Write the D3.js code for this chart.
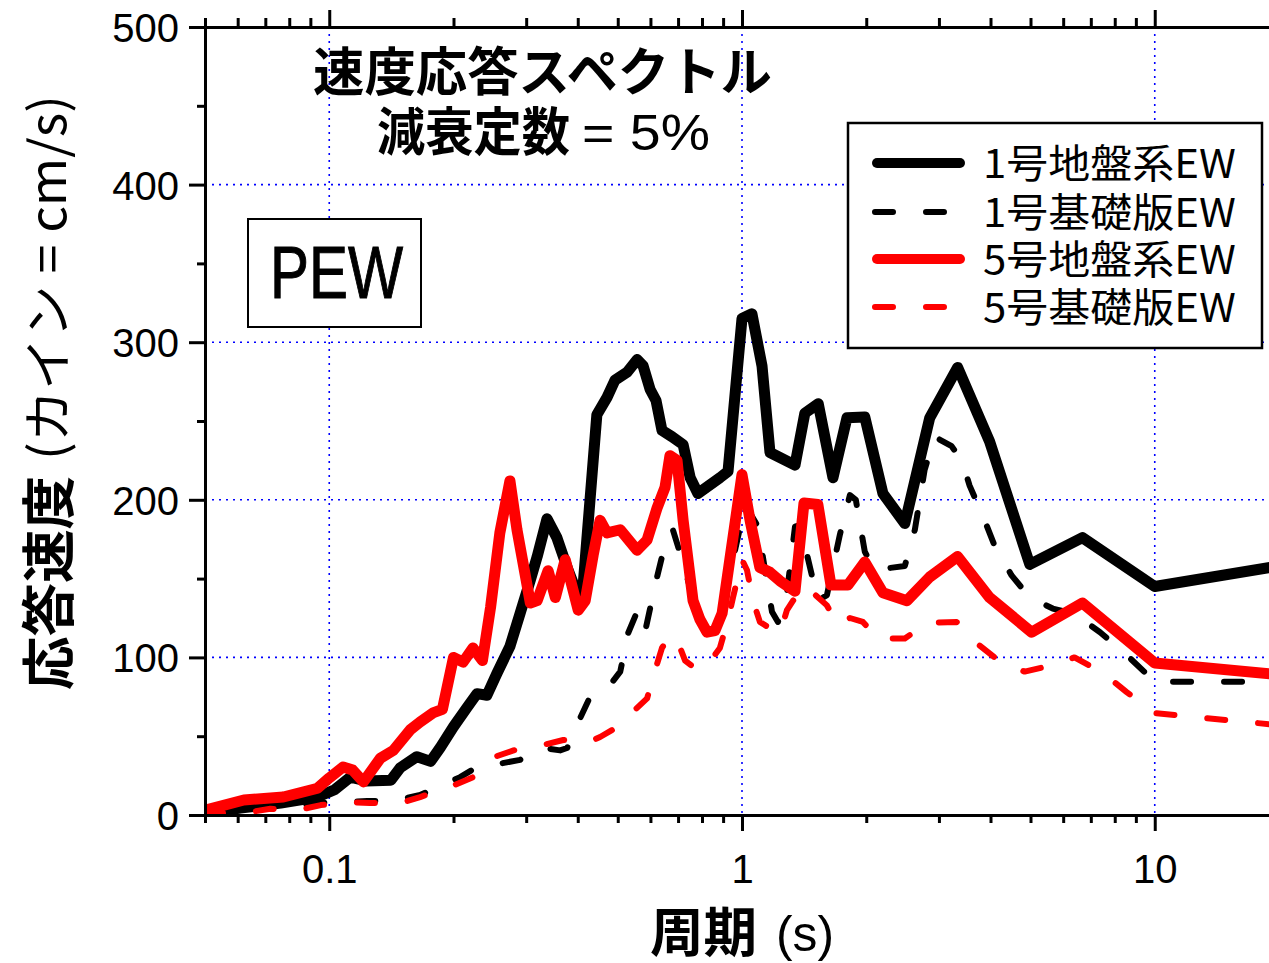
<!DOCTYPE html>
<html>
<head>
<meta charset="utf-8">
<script src="https://cdn.jsdelivr.net/npm/d3@7"></script>
<style>
  html, body { margin: 0; padding: 0; background: #fff; overflow: hidden; }
  svg { display: block; }
</style>
</head>
<body>
<svg id="chart" width="1269" height="963"></svg>
<script>
// ---- data: velocity response spectra (h = 5%), period [s] vs velocity [cm/s] ----
const seriesNames = ["1号地盤系EW", "1号基礎版EW", "5号地盤系EW", "5号基礎版EW"];

const periods1 = [0.05,0.0609,0.0763,0.0937,0.103,0.1124,0.123,0.141,0.1486,0.163,0.176,0.186,0.20,0.216,0.228,0.241,0.255,0.274,0.290,0.307,0.319,0.337,0.356,0.377,0.398,0.412,0.445,0.471,0.4925,0.527,0.557,0.576,0.599,0.619,0.640,0.677,0.72,0.749,0.782,0.884,0.925,1.0,1.057,1.118,1.169,1.344,1.42,1.53,1.661,1.796,1.984,2.195,2.48,2.85,3.33,3.98,4.98,6.68,10,20];
const values1  = [1,4.4,7.6,11.4,16,24,21.6,22,30,37,34,43,56,68.5,77,76,90,107,128,149,164,188,176,157,141,145,254,265,276,281,289,285,270,263,244,240,235,214,204,214,218,315,318,285,230,222,255,261,214,252,252.5,204,185,252,284,237,159,176,145,158];

const periods2 = [0.05,0.0667,0.0804,0.0937,0.1065,0.1236,0.1428,0.166,0.188,0.2075,0.228,0.249,0.290,0.33,0.3625,0.377,0.398,0.4285,0.479,0.507,0.530,0.557,0.582,0.616,0.659,0.68,0.72,0.757,0.791,0.851,0.895,0.962,1.017,1.093,1.137,1.182,1.222,1.278,1.344,1.382,1.477,1.527,1.606,1.727,1.826,1.887,1.984,2.098,2.48,2.623,2.77,2.93,3.22,3.41,3.56,3.87,4.09,4.5,4.98,5.66,6.39,7.37,8.55,10,20];
const values2  = [0.5,4.5,5,7.6,8.2,8.9,8.9,12.7,19,24,30.5,31.7,35,42.5,41,42.5,57,75,82.5,91,115.5,129,116,146,177.5,181,160,139.5,136,133,136,168,197,183,155.5,129,122.5,136,183,184,152,136,139.5,178,203,200,167,155.5,158,181,219,240,234,225,209,187,171,152,138,131,127.5,116,101.5,84.5,84.5];

const periods3 = [0.05,0.0621,0.0774,0.0937,0.1,0.108,0.114,0.121,0.133,0.143,0.157,0.166,0.179,0.188,0.20,0.211,0.223,0.235,0.246,0.259,0.274,0.285,0.307,0.319,0.339,0.353,0.373,0.401,0.417,0.436,0.453,0.471,0.507,0.557,0.589,0.623,0.651,0.669,0.696,0.72,0.761,0.791,0.823,0.860,0.895,1.0,1.046,1.105,1.169,1.236,1.344,1.413,1.527,1.642,1.806,1.984,2.195,2.51,2.85,3.33,3.98,5.03,6.68,10,20];
const values3  = [3,9.5,11.4,17,23.5,30.5,28.5,21,36,41,54,59,65,67,100,97,106,98,132,179,212,181,134.5,136,155,138,162,130,136,165,187,179,181,168,174.5,195,208,228,225,187,136,124,116,117,128,216,187,157,154,148.5,142,198,197,146,146,160.5,141,136,151,164,138,116,134.5,96.5,89];

const periods4 = [0.05,0.0632,0.072,0.0837,0.0954,0.1124,0.1254,0.1486,0.166,0.196,0.223,0.2525,0.2796,0.3243,0.369,0.421,0.4531,0.4925,0.5415,0.589,0.616,0.64,0.669,0.696,0.728,0.77,0.814,0.884,0.925,0.951,1.0,1.028,1.063,1.105,1.169,1.236,1.285,1.40,1.50,1.606,1.71,1.826,1.963,2.133,2.48,2.82,3.31,3.66,4.26,4.84,5.63,6.39,7.5,8.55,10,20];
const values4  = [1,1.5,4,3,6.3,8.2,7.6,7.6,11.4,17.8,24,37,41,44,47.6,45.7,49.5,55,65,74,92,106,114,111,98,93,93,106,124,138,162,155.5,136,122.5,118.5,115.5,130,145,140,133,120.5,125,122.5,112,112,122,122.5,110,96.5,91,95,100,90,78,64.7,57];

const xMajorTicks = [0.1, 1, 10];
const xMinorTicks = [0.05,0.06,0.07,0.08,0.09,0.2,0.3,0.4,0.5,0.6,0.7,0.8,0.9,2,3,4,5,6,7,8,9,20];
const yMajorTicks = [0, 100, 200, 300, 400, 500];
const yMinorTicks = [50, 150, 250, 350, 450];
const yGridTicks = [100, 200, 300, 400];

const titleLine1 = "速度応答スペクトル";
const titleLine2a = "減衰定数";
const titleLine2b = "= 5%";
const panelLabel = "PEW";
const xTitleA = "周期", xTitleB = "(s)";
const yTitleA = "応答速度", yTitleB = "(カイン = cm/s)";

// ---- layout ----
const LATIN = "'Liberation Sans', Arial, sans-serif";
const CJK = "'Noto Sans CJK JP', 'Noto Sans', sans-serif";
const plot = { left: 205, right: 1279, top: 27, bottom: 815 };

const svg = d3.select("#chart");
const x = d3.scaleLog().domain([0.05, 20]).range([plot.left, plot.right]);
const y = d3.scaleLinear().domain([0, 500]).range([plot.bottom, plot.top]);

// ---- grid ----
const grid = svg.append("g").attr("stroke", "#0000ff").attr("stroke-width", 1.6)
  .attr("stroke-dasharray", "2,5");
grid.selectAll("line.h").data(yGridTicks).join("line")
  .attr("x1", plot.left).attr("x2", plot.right)
  .attr("y1", d => y(d)).attr("y2", d => y(d));
grid.selectAll("line.v").data(xMajorTicks).join("line")
  .attr("y1", plot.top).attr("y2", plot.bottom)
  .attr("x1", d => x(d)).attr("x2", d => x(d));

// ---- series ----
svg.append("clipPath").attr("id", "plotClip").append("rect")
  .attr("x", plot.left).attr("y", plot.top - 5)
  .attr("width", plot.right - plot.left).attr("height", plot.bottom - plot.top + 5);

const series = [
  { name: seriesNames[0], periods: periods1, values: values1, color: "#000000", width: 11, dash: null },
  { name: seriesNames[1], periods: periods2, values: values2, color: "#000000", width: 6,  dash: "18,33" },
  { name: seriesNames[2], periods: periods3, values: values3, color: "#ff0000", width: 11, dash: null },
  { name: seriesNames[3], periods: periods4, values: values4, color: "#ff0000", width: 6,  dash: "18,33" }
];

const line = d3.line().x(d => x(d[0])).y(d => y(d[1]));
const linesG = svg.append("g").attr("clip-path", "url(#plotClip)");
series.forEach(s => {
  linesG.append("path")
    .datum(s.periods.map((p, i) => [p, s.values[i]]))
    .attr("d", line)
    .attr("fill", "none")
    .attr("stroke", s.color)
    .attr("stroke-width", s.width)
    .attr("stroke-linejoin", "round")
    .attr("stroke-linecap", "round")
    .attr("stroke-dasharray", s.dash);
});

// ---- axes ----
function styleAxis(g) {
  g.selectAll(".domain").attr("stroke", "#000").attr("stroke-width", 3);
  g.selectAll(".tick line").attr("stroke", "#000").attr("stroke-width", 3);
  g.selectAll(".tick text").attr("font-family", LATIN).attr("font-size", 40).attr("fill", "#000");
}
const fmtX = d => (d < 1 ? d.toString() : d3.format("d")(d));

// bottom
svg.append("g").attr("transform", `translate(0,${plot.bottom})`)
  .call(d3.axisBottom(x).tickValues(xMinorTicks).tickSize(8).tickSizeOuter(0).tickFormat(""))
  .call(styleAxis);
svg.append("g").attr("transform", `translate(0,${plot.bottom})`)
  .call(d3.axisBottom(x).tickValues(xMajorTicks).tickSize(16).tickSizeOuter(0).tickFormat(fmtX).tickPadding(12))
  .call(styleAxis)
  .call(g => g.selectAll(".tick text").attr("dy", "0.79em").attr("y", 36));
// top
svg.append("g").attr("transform", `translate(0,${plot.top})`)
  .call(d3.axisTop(x).tickValues(xMinorTicks).tickSize(9).tickSizeOuter(0).tickFormat(""))
  .call(styleAxis);
svg.append("g").attr("transform", `translate(0,${plot.top})`)
  .call(d3.axisTop(x).tickValues(xMajorTicks).tickSize(17).tickSizeOuter(0).tickFormat(""))
  .call(styleAxis);
// left
svg.append("g").attr("transform", `translate(${plot.left},0)`)
  .call(d3.axisLeft(y).tickValues(yMinorTicks).tickSize(8).tickSizeOuter(0).tickFormat(""))
  .call(styleAxis);
svg.append("g").attr("transform", `translate(${plot.left},0)`)
  .call(d3.axisLeft(y).tickValues(yMajorTicks).tickSize(16).tickSizeOuter(0).tickPadding(10))
  .call(styleAxis)
  .call(g => g.selectAll(".tick text").attr("dy", "0.36em"));

// ---- axis titles ----
svg.append("text").attr("x", 650).attr("y", 952)
  .attr("font-family", CJK).attr("font-weight", "bold").attr("font-size", 53)
  .attr("textLength", 107).attr("lengthAdjust", "spacingAndGlyphs")
  .text(xTitleA);
svg.append("text").attr("x", 776).attr("y", 951)
  .attr("font-family", LATIN).attr("font-size", 50)
  .attr("textLength", 58).attr("lengthAdjust", "spacingAndGlyphs")
  .text(xTitleB);

svg.append("text").attr("transform", "translate(69,690) rotate(-90)")
  .attr("font-family", CJK).attr("font-weight", "bold").attr("font-size", 54)
  .attr("textLength", 214).attr("lengthAdjust", "spacingAndGlyphs")
  .text(yTitleA);
svg.append("text").attr("transform", "translate(66,460) rotate(-90)")
  .attr("font-family", CJK).attr("font-size", 50)
  .attr("textLength", 365).attr("lengthAdjust", "spacingAndGlyphs")
  .text(yTitleB);

// ---- title ----
svg.append("text").attr("x", 313).attr("y", 91)
  .attr("font-family", CJK).attr("font-weight", "bold").attr("font-size", 52)
  .attr("textLength", 459).attr("lengthAdjust", "spacingAndGlyphs")
  .text(titleLine1);
svg.append("text").attr("x", 377).attr("y", 151)
  .attr("font-family", CJK).attr("font-weight", "bold").attr("font-size", 52)
  .attr("textLength", 193).attr("lengthAdjust", "spacingAndGlyphs")
  .text(titleLine2a);
svg.append("text").attr("x", 582).attr("y", 150)
  .attr("font-family", LATIN).attr("font-size", 50)
  .attr("textLength", 128).attr("lengthAdjust", "spacingAndGlyphs")
  .text(titleLine2b);

// ---- panel label box ----
svg.append("rect").attr("x", 248).attr("y", 219).attr("width", 173).attr("height", 108)
  .attr("fill", "#fff").attr("stroke", "#000").attr("stroke-width", 2);
svg.append("text").attr("x", 270).attr("y", 298)
  .attr("font-family", LATIN).attr("font-size", 74)
  .attr("stroke", "#000").attr("stroke-width", 1)
  .attr("textLength", 133).attr("lengthAdjust", "spacingAndGlyphs")
  .text(panelLabel);

// ---- legend ----
const legend = svg.append("g");
legend.append("rect").attr("x", 848).attr("y", 123).attr("width", 414).attr("height", 225)
  .attr("fill", "#fff").attr("stroke", "#000").attr("stroke-width", 2.5);
const legendRowY = [163, 212, 259, 307];
series.forEach((s, i) => {
  const ly = legendRowY[i];
  legend.append("line")
    .attr("x1", s.dash ? 875 : 877).attr("x2", 960).attr("y1", ly).attr("y2", ly)
    .attr("stroke", s.color).attr("stroke-width", s.dash ? 6 : 10)
    .attr("stroke-linecap", "round").attr("stroke-dasharray", s.dash);
  legend.append("text").attr("x", 983).attr("y", ly + 15)
    .attr("font-family", CJK).attr("font-size", 40)
    .attr("textLength", 253).attr("lengthAdjust", "spacingAndGlyphs")
    .text(s.name);
});
</script>
</body>
</html>
